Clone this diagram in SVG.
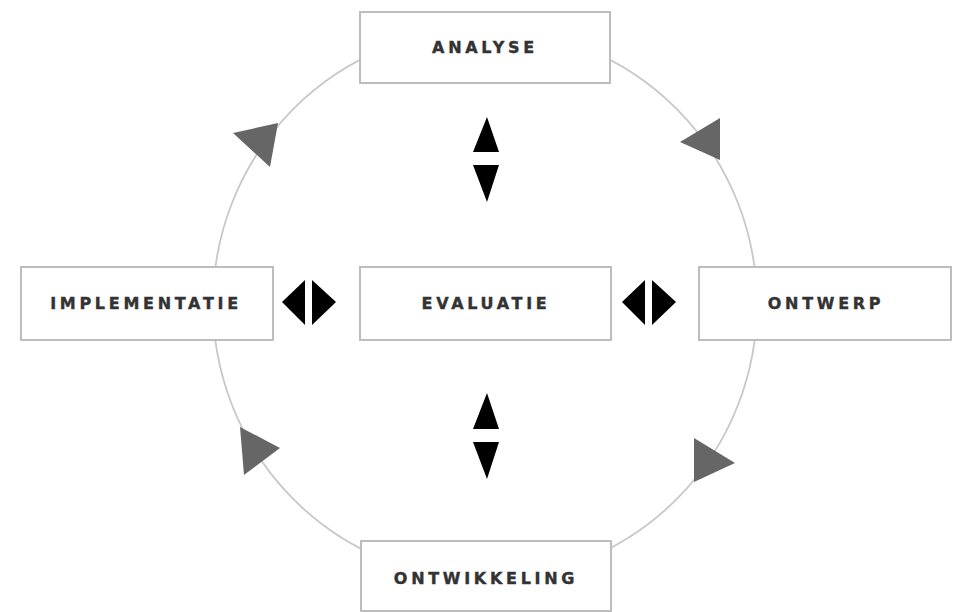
<svg xmlns="http://www.w3.org/2000/svg" width="953" height="612" viewBox="0 0 953 612">
<style>
.box{fill:#fff;stroke:#bdbdbd;stroke-width:2}
.lbl{font-family:"DejaVu Sans","Liberation Sans",Arial,sans-serif;font-weight:bold;font-size:16px;letter-spacing:3.7px;fill:#333;stroke:#333;stroke-width:0.4;text-anchor:middle}
.ring{fill:none;stroke:#c8c8c8;stroke-width:1.8}
.cyc{fill:#666}
.bi{fill:#000}
</style>
<rect width="953" height="612" fill="#fff"/>
<g id="connectors">
<ellipse class="ring" cx="485" cy="304" rx="272" ry="275"/>
<polygon class="cyc" points="680,142 720,118 720,160"/>
<polygon class="cyc" points="694,438 735,463 694,482"/>
<polygon class="cyc" points="240,427 280,448 244,475"/>
<polygon class="cyc" points="233,133 278,123 270,167"/>
<polygon class="bi" points="487,117 499,152 473,152"/>
<polygon class="bi" points="473,165 499,165 487,202"/>
<polygon class="bi" points="487,393 499,429 473,429"/>
<polygon class="bi" points="473,442 499,442 487,479"/>
<polygon class="bi" points="282,302 305,280 305,325"/>
<polygon class="bi" points="312,280 336,302 312,325"/>
<polygon class="bi" points="622,302 645,280 645,325"/>
<polygon class="bi" points="652,280 676,302 652,325"/>
</g>
<g id="analyse">
<rect class="box" x="360" y="12" width="250" height="71"/>
<text class="lbl" x="485" y="53">ANALYSE</text>
</g>
<g id="evaluatie">
<rect class="box" x="360" y="267" width="251" height="73"/>
<text class="lbl" x="486" y="309">EVALUATIE</text>
</g>
<g id="implementatie">
<rect class="box" x="21" y="267" width="252" height="73"/>
<text class="lbl" x="146" y="309">IMPLEMENTATIE</text>
</g>
<g id="ontwerp">
<rect class="box" x="699" y="267" width="252" height="73"/>
<text class="lbl" x="826" y="309">ONTWERP</text>
</g>
<g id="ontwikkeling">
<rect class="box" x="361" y="541" width="250" height="70"/>
<text class="lbl" x="486" y="584">ONTWIKKELING</text>
</g>
</svg>
